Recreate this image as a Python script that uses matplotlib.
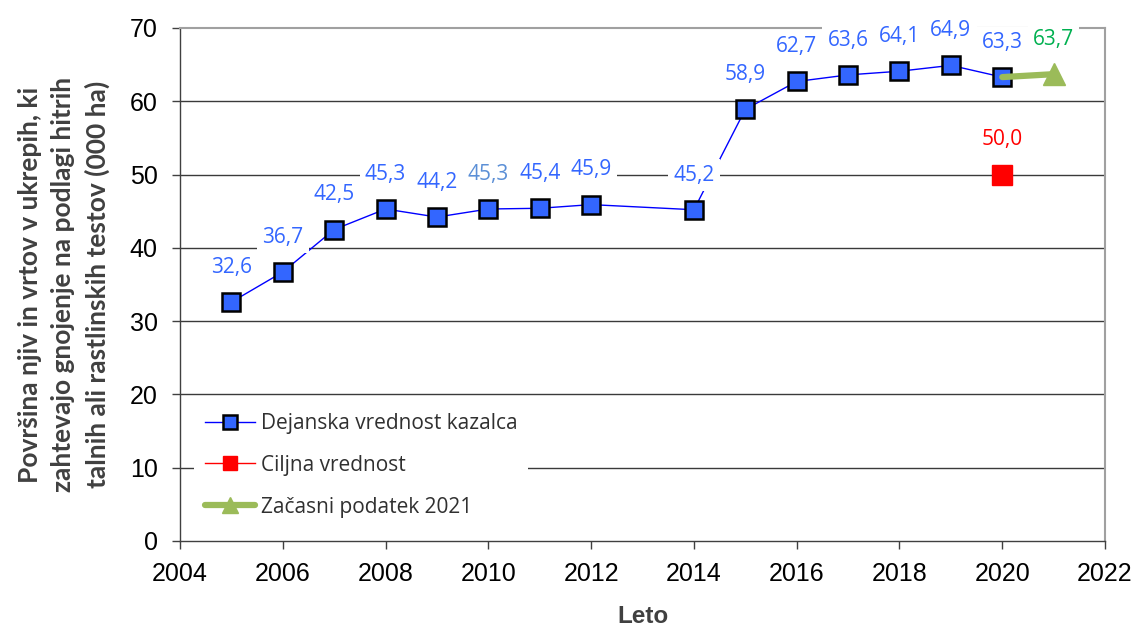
import matplotlib
matplotlib.use("Agg")
import matplotlib.pyplot as plt

years = [2005, 2006, 2007, 2008, 2009, 2010, 2011, 2012, 2014, 2015, 2016, 2017, 2018, 2019, 2020]
values = [32.6, 36.7, 42.5, 45.3, 44.2, 45.3, 45.4, 45.9, 45.2, 58.9, 62.7, 63.6, 64.1, 64.9, 63.3]
target_years = [2020]
target_values = [50.0]
prov_years = [2020, 2021]
prov_values = [63.3, 63.7]

labels_text = ["32,6", "36,7", "42,5", "45,3", "44,2", "45,3", "45,4", "45,9", "45,2",
               "58,9", "62,7", "63,6", "64,1", "64,9", "63,3"]
label_colors = ["#3366ff"] * len(years)
label_colors[5] = "#5b8fd6"

xticks = list(range(2004, 2023, 2))
yticks = list(range(0, 71, 10))

fig = plt.figure(figsize=(11.37, 6.32), dpi=100)
ax = fig.add_axes([0.1583, 0.144, 0.8136, 0.8117])

ax.set_xlim(2004, 2022)
ax.set_ylim(0, 70)
ax.set_xticks(xticks)
ax.set_yticks(yticks)

for y in yticks[1:-1]:
    ax.axhline(y, color="#3a3a3a", lw=1.0, zorder=0)

ax.plot(years, values, color="#0000ff", lw=1.0, marker="s", markersize=13,
        markerfacecolor="#3366ff", markeredgecolor="black", markeredgewidth=1.8,
        zorder=3, label="Dejanska vrednost kazalca")
ax.plot(target_years, target_values, color="#ff0000", lw=1.0, marker="s", markersize=14,
        markerfacecolor="#ff0000", markeredgecolor="#ff0000", zorder=3,
        label="Ciljna vrednost")
ax.plot(prov_years, prov_values, color="#9bbb59", lw=4.5, solid_capstyle="round",
        zorder=4, markevery=[1], marker="^", markersize=16,
        markerfacecolor="#9bbb59", markeredgecolor="#9bbb59",
        label="Začasni podatek 2021")

lab_font = dict(family="Open Sans", fontsize=15)
bb = dict(boxstyle="square,pad=0.25", facecolor="white", edgecolor="none")
for x, v, t, c in zip(years, values, labels_text, label_colors):
    ax.annotate(t, (x, v), xytext=(0, 25), textcoords="offset points",
                ha="center", va="center", color=c, bbox=bb, zorder=5, **lab_font)
ax.annotate("50,0", (target_years[0], target_values[0]), xytext=(0, 25),
            textcoords="offset points", ha="center", va="center", color="#ff0000",
            bbox=bb, zorder=5, **lab_font)
ax.annotate("63,7", (prov_years[1], prov_values[1]), xytext=(0, 25),
            textcoords="offset points", ha="center", va="center", color="#00b050",
            bbox=bb, zorder=5, **lab_font)

for s in ["top", "right"]:
    ax.spines[s].set_color("#a0a0a0")
    ax.spines[s].set_linewidth(1.5)
for s in ["left", "bottom"]:
    ax.spines[s].set_color("#404040")
    ax.spines[s].set_linewidth(1.0)

ax.tick_params(axis="both", direction="out", length=6, width=1, color="#404040",
               labelsize=18, labelcolor="black")
ax.tick_params(axis="x", pad=9)
ax.tick_params(axis="y", pad=10)
for lab in ax.get_xticklabels() + ax.get_yticklabels():
    lab.set_family("Liberation Sans")

ax.set_xlabel("Leto", family="Liberation Sans", fontsize=17.5, fontweight="bold",
              color="#404040", labelpad=14)
ax.set_ylabel("Površina njiv in vrtov v ukrepih, ki\nzahtevajo gnojenje na podlagi hitrih\ntalnih ali rastlinskih testov (000 ha)",
              family="Lato", fontsize=19, fontweight="bold", color="#404040",
              linespacing=1.45, labelpad=14)

leg = ax.legend(loc="lower left", bbox_to_anchor=(0.004, 0.005), frameon=True,
                fancybox=False, edgecolor="none", facecolor="white", framealpha=1,
                prop=dict(family="Open Sans", size=15), handlelength=2.4,
                labelspacing=1.0, borderpad=0.5, handletextpad=0.3, markerscale=0.75)
for t in leg.get_texts():
    t.set_color("#303030")
leg.set_zorder(6)

fig.savefig("out.png", dpi=100)
